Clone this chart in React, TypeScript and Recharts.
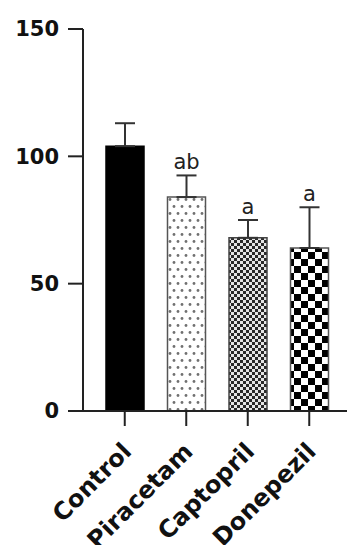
import React from 'react';
import { BarChart, Bar, XAxis, YAxis, ErrorBar, Cell, LabelList } from 'recharts';

const categories = ['Control', 'Piracetam', 'Captopril', 'Donepezil'];
const means = [104, 84, 68, 64];
const errors = [9, 8.5, 7, 16];
const letters = ['', 'ab', 'a', 'a'];
const yTicks = [0, 50, 100, 150];

const fills = ['#000000', 'url(#dots)', 'url(#fine)', 'url(#checker)'];
const strokes = ['#000000', '#555555', '#444444', '#555555'];

const data = categories.map((name, i) => ({
  name,
  value: means[i],
  err: [0, errors[i]],
  errUp: errors[i],
  sig: letters[i],
}));

const AxisTick = (props: any) => {
  const { x, y, payload } = props;
  return (
    <g transform={`translate(${x + 8},${y + 25})`}>
      <text
        x={0}
        y={0}
        transform="rotate(-45)"
        textAnchor="end"
        fontFamily="DejaVu Sans"
        fontWeight="bold"
        fontSize={24}
        fill="#111"
      >
        {payload.value}
      </text>
    </g>
  );
};

const SigLabel = (props: any) => {
  const { x, y, width, height, index } = props;
  const d = data[index];
  if (!d || !d.sig) return null;
  const pxPerUnit = height / d.value;
  const topY = y - d.errUp * pxPerUnit;
  return (
    <text
      x={x + width / 2}
      y={topY - 6}
      textAnchor="middle"
      fontFamily="DejaVu Sans"
      fontSize={21}
      fill="#222"
    >
      {d.sig}
    </text>
  );
};

export default function App() {
  return (
    <div style={{ position: 'absolute', left: 0, top: 0 }}>
      <BarChart
        width={352}
        height={545}
        data={data}
        margin={{ top: 29, right: 0, bottom: 0, left: 0 }}
      >
        <defs>
          <pattern id="dots" width="8" height="14" patternUnits="userSpaceOnUse">
            <rect width="8" height="14" fill="#ffffff" />
            <circle cx="2" cy="3.5" r="1.4" fill="#707070" />
            <circle cx="6" cy="10.5" r="1.4" fill="#707070" />
          </pattern>
          <pattern id="fine" width="6" height="6" patternUnits="userSpaceOnUse">
            <rect width="6" height="6" fill="#e6e6e6" />
            <rect x="0" y="0" width="3" height="3" fill="#2a2a2a" />
            <rect x="3" y="3" width="3" height="3" fill="#2a2a2a" />
          </pattern>
          <pattern id="checker" width="14" height="14" patternUnits="userSpaceOnUse">
            <rect width="14" height="14" fill="#ffffff" />
            <rect x="0" y="0" width="7" height="7" fill="#000" />
            <rect x="7" y="7" width="7" height="7" fill="#000" />
          </pattern>
        </defs>
        <XAxis
          dataKey="name"
          height={134}
          padding={{ left: 11, right: 12 }}
          axisLine={{ stroke: '#222', strokeWidth: 2 }}
          tickLine={{ stroke: '#222', strokeWidth: 2 }}
          tickSize={15}
          interval={0}
          tick={<AxisTick />}
        />
        <YAxis
          width={83}
          domain={[0, 150]}
          ticks={yTicks}
          interval={0}
          axisLine={{ stroke: '#222', strokeWidth: 2 }}
          tickLine={{ stroke: '#222', strokeWidth: 2 }}
          tickSize={15}
          tickMargin={9}
          tick={{ fontFamily: 'DejaVu Sans', fontWeight: 'bold', fontSize: 21, fill: '#111' }}
        />
        <Bar dataKey="value" barSize={38} isAnimationActive={false} strokeWidth={1.5}>
          {data.map((d, i) => (
            <Cell key={d.name} fill={fills[i]} stroke={strokes[i]} />
          ))}
          <ErrorBar dataKey="err" width={10} stroke="#333" strokeWidth={2} direction="y" />
          <LabelList dataKey="sig" content={<SigLabel />} />
        </Bar>
      </BarChart>
    </div>
  );
}
